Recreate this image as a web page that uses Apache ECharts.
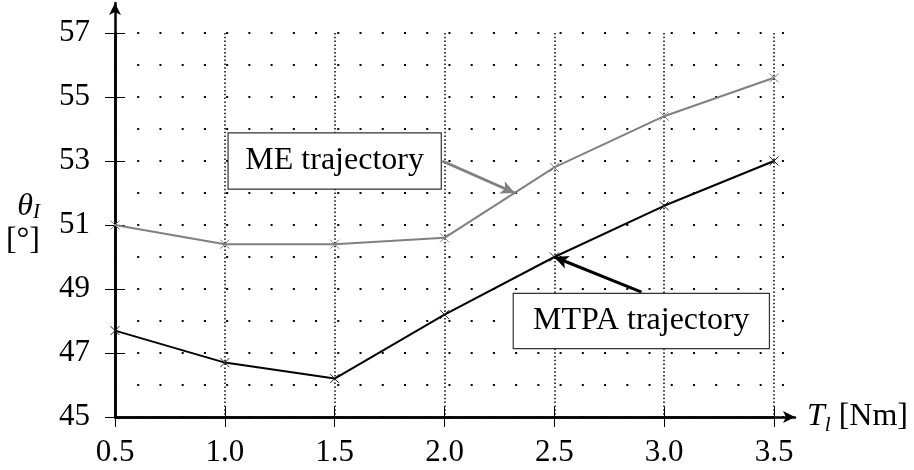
<!DOCTYPE html>
<html>
<head>
<meta charset="utf-8">
<script src="https://cdn.jsdelivr.net/npm/echarts@6/dist/echarts.min.js"></script>
<style>
  html, body { margin: 0; padding: 0; background: #fff; }
  #chart { width: 914px; height: 470px; }
</style>
</head>
<body>
<div id="chart"></div>
<script>
// Load torque T_l [Nm] and current angle theta_I [deg] for both control strategies
const torque = [0.5, 1.0, 1.5, 2.0, 2.5, 3.0, 3.5];
const mtpaAngle = [47.7, 46.7, 46.2, 48.2, 50.0, 51.6, 53.0];
const meAngle = [51.0, 50.4, 50.4, 50.6, 52.8, 54.4, 55.6];

// Callout labels, in data coordinates: box centre, arrow start and arrow tip
const mtpaNote = { text: 'MTPA trajectory', box: [2.896, 48.0], from: [2.897, 48.9], to: [2.5, 50.0] };
const meNote = { text: 'ME trajectory', box: [1.5, 53.0], from: [1.99, 53.0], to: [2.32, 52.0] };

const FONT = '"Liberation Serif", "DejaVu Serif", serif';
const CROSS = 'path://M0,0L10,10M10,0L0,10';

function pairs(xs, ys) { return xs.map((x, i) => [x, ys[i]]); }

function callout(note, color, boxW, boxH) {
  return {
    markLine: {
      silent: true,
      animation: false,
      symbol: ['none', 'arrow'],
      symbolSize: [10, 14],
      label: { show: false },
      lineStyle: { color: color, width: 3, type: 'solid' },
      emphasis: { disabled: true },
      data: [[{ coord: note.from }, { coord: note.to }]]
    },
    markPoint: {
      silent: true,
      animation: false,
      symbol: 'circle',
      symbolSize: 0,
      label: {
        show: true, position: 'inside', formatter: note.text,
        fontFamily: FONT, fontSize: 32, color: '#000',
        backgroundColor: '#fff', borderColor: '#333', borderWidth: 1.2,
        width: boxW, height: boxH, lineHeight: boxH,
        align: 'center', verticalAlign: 'middle', padding: 0
      },
      data: [{ coord: note.box }]
    }
  };
}

const chart = echarts.init(document.getElementById('chart'), null, { renderer: 'canvas' });

const axisBlack = { color: '#000', width: 2.5 };

chart.setOption({
  animation: false,
  backgroundColor: '#fff',
  grid: [
    { left: 115, right: 140, top: 33, bottom: 53 },   // plot area
    { left: 115, right: 119, top: 3, bottom: 53 },    // arrowed axis lines
    { left: 115, right: 129, top: 33, bottom: 53 }    // dotted horizontal rows
  ],
  xAxis: [
    {
      gridIndex: 0, type: 'value', min: 0.5, max: 3.5, interval: 0.5,
      axisLine: { show: true, onZero: false, lineStyle: axisBlack },
      axisTick: { show: true, length: 10, lineStyle: { color: '#000', width: 1 } },
      axisLabel: {
        fontFamily: FONT, fontSize: 31, color: '#000', margin: 20,
        formatter: v => v.toFixed(1)
      },
      splitLine: { show: true, lineStyle: { color: '#000', width: 1.5, type: [1.5, 2.3] } }
    },
    {
      gridIndex: 0, type: 'value', min: 0.5, max: 3.5, interval: 0.5, position: 'bottom',
      axisLine: { show: false },
      axisTick: { show: true, inside: true, length: 10, lineStyle: { color: '#000', width: 1 } },
      axisLabel: { show: false },
      splitLine: { show: false }
    },
    {
      gridIndex: 1, type: 'value', min: 0, max: 1, position: 'bottom',
      axisLine: { show: true, onZero: false, symbol: ['none', 'arrow'], symbolSize: [9, 12], lineStyle: axisBlack },
      axisTick: { show: false }, axisLabel: { show: false }, splitLine: { show: false },
      name: '{t|T}{s|l}{u| [Nm]}',
      nameLocation: 'end', nameGap: 12,
      nameTextStyle: {
        fontFamily: FONT, color: '#000',
        rich: {
          t: { fontFamily: FONT, fontSize: 32, fontStyle: 'italic', lineHeight: 38 },
          s: { fontFamily: FONT, fontSize: 21, fontStyle: 'italic', lineHeight: 18, verticalAlign: 'bottom' },
          u: { fontFamily: FONT, fontSize: 32, lineHeight: 38 }
        }
      }
    },
    { gridIndex: 2, type: 'value', min: 0, max: 1, show: false }
  ],
  yAxis: [
    {
      gridIndex: 0, type: 'value', min: 45, max: 57, interval: 2,
      axisLine: { show: true, onZero: false, lineStyle: axisBlack },
      axisTick: { show: true, length: 10, lineStyle: { color: '#000', width: 1 } },
      axisLabel: { fontFamily: FONT, fontSize: 31, color: '#000', margin: 25 },
      splitLine: { show: false },
      name: '{t|θ}{s|I}\n{u|[°]}',
      nameLocation: 'middle', nameRotate: 0, nameGap: 75,
      nameTextStyle: {
        fontFamily: FONT, color: '#000',
        rich: {
          t: { fontFamily: FONT, fontSize: 32, fontStyle: 'italic', lineHeight: 32 },
          s: { fontFamily: FONT, fontSize: 21, fontStyle: 'italic', lineHeight: 16, verticalAlign: 'bottom' },
          u: { fontFamily: FONT, fontSize: 32, lineHeight: 36, align: 'center' }
        }
      }
    },
    {
      gridIndex: 0, type: 'value', min: 45, max: 57, interval: 2, position: 'left',
      axisLine: { show: false },
      axisTick: { show: true, inside: true, length: 10, lineStyle: { color: '#000', width: 1 } },
      axisLabel: { show: false },
      splitLine: { show: false }
    },
    {
      gridIndex: 1, type: 'value', min: 0, max: 1, position: 'left',
      axisLine: { show: true, onZero: false, symbol: ['none', 'arrow'], symbolSize: [9, 12], lineStyle: axisBlack },
      axisTick: { show: false }, axisLabel: { show: false }, splitLine: { show: false }
    },
    {
      gridIndex: 2, type: 'value', min: 45, max: 57, interval: 1,
      axisLine: { show: false }, axisTick: { show: false }, axisLabel: { show: false },
      splitLine: { show: true, lineStyle: { color: '#000', width: 2, type: [2, 20.23] } }
    }
  ],
  series: [
    Object.assign({
      name: 'MTPA trajectory', type: 'line', xAxisIndex: 0, yAxisIndex: 0,
      data: pairs(torque, mtpaAngle),
      symbol: CROSS, symbolSize: 9,
      itemStyle: { color: '#000', borderColor: '#222', borderWidth: 1 },
      lineStyle: { color: '#000', width: 2 },
      z: 3
    }, callout(mtpaNote, '#000', 255, 54)),
    Object.assign({
      name: 'ME trajectory', type: 'line', xAxisIndex: 0, yAxisIndex: 0,
      data: pairs(torque, meAngle),
      symbol: CROSS, symbolSize: 9,
      itemStyle: { color: '#808080', borderColor: '#808080', borderWidth: 1 },
      lineStyle: { color: '#808080', width: 2 },
      z: 3
    }, callout(meNote, '#808080', 212, 55))
  ]
});
</script>
</body>
</html>
